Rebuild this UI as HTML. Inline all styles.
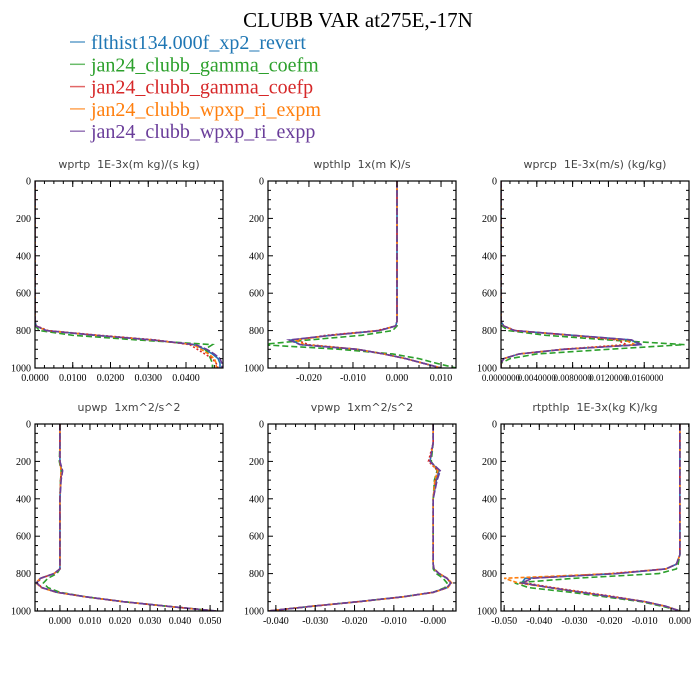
<!DOCTYPE html>
<html><head><meta charset="utf-8"><style>
html,body{margin:0;padding:0;background:#fff;}
svg{display:block;}
</style></head><body>
<svg id="chart" width="700" height="700" viewBox="0 0 700 700" xmlns="http://www.w3.org/2000/svg">
<text x="358" y="27" text-anchor="middle" font-family="Liberation Serif, serif" font-size="21" fill="#000">CLUBB VAR at275E,-17N</text>
<g id="legend"></g>
<g id="panels"></g>
</svg>
<script>
const seriesNames = ["flthist134.000f_xp2_revert","jan24_clubb_gamma_coefm","jan24_clubb_gamma_coefp","jan24_clubb_wpxp_ri_expm","jan24_clubb_wpxp_ri_expp"];
const seriesColors = ["#1f77b4","#2ca02c","#d62728","#ff7f0e","#6a3d9a"];
const seriesDash = ["","6,3","2,2","4,2","7,2"];
const levels = [0,100,200,250,300,400,500,600,700,750,775,800,825,850,875,900,925,950,975,1000];
const yTicks = [0,200,400,600,800,1000];

const wprtpVals = [
 [0,0,0,0,0,0,0,0,0,0,0.0003,0.003,0.016,0.031,0.042,0.045,0.047,0.0485,0.049,0.049],
 [0,0,0,0,0,0,0,0,0,0,0.0001,0.0012,0.010,0.027,0.047,0.045,0.046,0.0465,0.047,0.047],
 [0,0,0,0,0,0,0,0,0,0,0.0004,0.0035,0.017,0.032,0.041,0.043,0.045,0.047,0.048,0.0485],
 [0,0,0,0,0,0,0,0,0,0,0.0003,0.003,0.016,0.031,0.042,0.044,0.046,0.0475,0.048,0.048],
 [0,0,0,0,0,0,0,0,0,0,0.0003,0.003,0.016,0.031,0.0425,0.0455,0.0475,0.049,0.0495,0.0495]];
const wpthlpVals = [
 [0,0,0,0,0,0,0,0,0,0,-0.0003,-0.004,-0.015,-0.024,-0.022,-0.009,-0.003,0.002,0.006,0.010],
 [0,0,0,0,0,0,0,0,0,0,0,-0.001,-0.008,-0.020,-0.031,-0.013,-0.001,0.005,0.009,0.0134],
 [0,0,0,0,0,0,0,0,0,0,-0.0003,-0.0045,-0.016,-0.023,-0.020,-0.009,-0.003,0.002,0.006,0.010],
 [0,0,0,0,0,0,0,0,0,0,-0.0003,-0.004,-0.015,-0.023,-0.021,-0.009,-0.003,0.002,0.006,0.010],
 [0,0,0,0,0,0,0,0,0,0,-0.0003,-0.004,-0.015,-0.0245,-0.022,-0.009,-0.003,0.002,0.006,0.010]];
const wprcpVals = [
 [0,0,0,0,0,0,0,0,0,0,0.0003,0.0015,0.008,0.0145,0.0155,0.007,0.002,0.0003,0,0],
 [0,0,0,0,0,0,0,0,0,0,0.0001,0.0008,0.005,0.012,0.0205,0.012,0.004,0.001,0,0],
 [0,0,0,0,0,0,0,0,0,0,0.0003,0.0016,0.0078,0.013,0.014,0.0068,0.002,0.0003,0,0],
 [0,0,0,0,0,0,0,0,0,0,0.0003,0.0015,0.0079,0.0138,0.015,0.007,0.002,0.0003,0,0],
 [0,0,0,0,0,0,0,0,0,0,0.0003,0.0015,0.008,0.0146,0.0157,0.007,0.002,0.0003,0,0]];
const upwpVals = [
 [0,0,0,0.0006,0.0003,0,0,0,0,0,0,-0.002,-0.0065,-0.0078,-0.006,-0.001,0.009,0.021,0.036,0.052],
 [0,0,-0.0002,0.0004,0.0002,0,0,0,0,0,0,-0.001,-0.004,-0.0055,-0.004,0,0.009,0.021,0.036,0.052],
 [0,0,0,0.0005,0.0002,0,0,0,0,0,0,-0.002,-0.0063,-0.0076,-0.006,-0.001,0.009,0.021,0.036,0.052],
 [0,0,0,0.0004,0.0003,0,0,0,0,0,0,-0.002,-0.0066,-0.008,-0.0062,-0.0012,0.0088,0.0208,0.0358,0.052],
 [0,0,0,0.0009,0.0004,0,0,0,0,0,0,-0.002,-0.0065,-0.0078,-0.006,-0.001,0.009,0.021,0.036,0.052]];
const vpwpVals = [
 [0,0,-0.0008,0.0015,0.0008,0,0,0,0,0,0.0002,0.0015,0.0035,0.0045,0.0035,0,-0.008,-0.019,-0.031,-0.042],
 [0,0,-0.0005,0.001,0.0003,0,0,0,0,0,0,0.0008,0.0025,0.0035,0.003,0,-0.008,-0.019,-0.031,-0.042],
 [0,0,-0.0012,0.0012,0.0006,0,0,0,0,0,0.0002,0.0015,0.0035,0.0045,0.0035,0,-0.008,-0.019,-0.031,-0.042],
 [0,0,-0.0008,0.0012,0.0004,0,0,0,0,0,0.0002,0.0016,0.0036,0.0047,0.0037,0.0002,-0.0078,-0.0188,-0.031,-0.042],
 [0,0,-0.0008,0.0018,0.001,0,0,0,0,0,0.0002,0.0015,0.0035,0.0045,0.0035,0,-0.008,-0.019,-0.031,-0.042]];
const rtpthlpVals = [
 [0,0,0,0,0,0,0,0,0,-0.001,-0.004,-0.018,-0.044,-0.045,-0.037,-0.028,-0.019,-0.010,-0.004,0],
 [0,0,0,0,0,0,0,0,0,-0.0005,-0.001,-0.006,-0.030,-0.047,-0.043,-0.031,-0.021,-0.011,-0.005,0.0005],
 [0,0,0,0,0,0,0,0,0,-0.001,-0.004,-0.020,-0.043,-0.044,-0.036,-0.027,-0.018,-0.010,-0.004,0],
 [0,0,0,0,0,0,0,0,0,-0.001,-0.004,-0.019,-0.050,-0.046,-0.037,-0.028,-0.019,-0.010,-0.004,0],
 [0,0,0,0,0,0,0,0,0,-0.001,-0.004,-0.018,-0.042,-0.045,-0.037,-0.028,-0.019,-0.010,-0.004,0]];

const panelTitles = ["wprtp\u00a0\u00a01E-3x(m kg)/(s kg)","wpthlp\u00a0\u00a01x(m K)/s","wprcp\u00a0\u00a01E-3x(m/s) (kg/kg)","upwp\u00a0\u00a01xm^2/s^2","vpwp\u00a0\u00a01xm^2/s^2","rtpthlp\u00a0\u00a01E-3x(kg K)/kg"];
const xDomains = [[0,0.0498],[-0.0293,0.0134],[0,0.021],[-0.0083,0.0543],[-0.042,0.0058],[-0.0509,0.0026]];
const xTickVals = [[0,0.01,0.02,0.03,0.04],[-0.02,-0.01,0,0.01],[0,0.004,0.008,0.012,0.016],[0,0.01,0.02,0.03,0.04,0.05],[-0.04,-0.03,-0.02,-0.01,0],[-0.05,-0.04,-0.03,-0.02,-0.01,0]];
const xTickLabels = [["0.0000","0.0100","0.0200","0.0300","0.0400"],["-0.020","-0.010","0.000","0.010"],["0.0000000","0.0040000","0.0080000","0.0120000","0.0160000"],["0.000","0.010","0.020","0.030","0.040","0.050"],["-0.040","-0.030","-0.020","-0.010","-0.000"],["-0.050","-0.040","-0.030","-0.020","-0.010","0.000"]];
const xMinorStep = [0.0025,0.0025,0.001,0.0025,0.0025,0.0025];
const panelVals = [wprtpVals,wpthlpVals,wprcpVals,upwpVals,vpwpVals,rtpthlpVals];
const panelNames = ["wprtp","wpthlp","wprcp","upwp","vpwp","rtpthlp"];

const NS="http://www.w3.org/2000/svg";
function mk(tag,attrs,parent){const e=document.createElementNS(NS,tag);for(const k in attrs)e.setAttribute(k,attrs[k]);parent.appendChild(e);return e;}

const leg=document.getElementById('legend');
seriesNames.forEach((n,i)=>{
  const y=42+i*22.3;
  const g=mk('g',{},leg);
  
  
  mk('line',{x1:70,x2:85,y1:y,y2:y,stroke:seriesColors[i],'stroke-width':1.5,opacity:0.7},g);
  const t=mk('text',{x:91,y:y+7,'font-family':'Liberation Serif, serif','font-size':20,fill:seriesColors[i]},g);
  t.textContent=n;
});

const boxes=[[35,181],[268,181],[501,181],[35,424],[268,424],[501,424]];
const W=188,H=187;
const root=document.getElementById('panels');
boxes.forEach((b,p)=>{
  const [x0,y0]=b;
  const g=mk('g',{},root);
  
  
  const [d0,d1]=xDomains[p];
  const xs=v=>x0+(v-d0)/(d1-d0)*W;
  const ys=v=>y0+v/1000*H;
  const t=mk('text',{x:x0+W/2,y:y0-13,'text-anchor':'middle','font-family':'DejaVu Sans, sans-serif','font-size':11,fill:'#444'},g);
  
  
  t.textContent=panelTitles[p];
  const clipId='clip'+p;
  const cp=mk('clipPath',{id:clipId},g);
  mk('rect',{x:x0,y:y0,width:W,height:H},cp);
  const lines=mk('g',{'clip-path':'url(#'+clipId+')'},g);
  panelVals[p].forEach((vals,s)=>{
    const pts=vals.map((v,k)=>xs(v).toFixed(2)+','+ys(levels[k]).toFixed(2)).join(' ');
    const pl=mk('polyline',{points:pts,fill:'none',stroke:seriesColors[s],'stroke-width':1.6,'stroke-dasharray':seriesDash[s]},lines);
    
    
  });
  const ax=mk('g',{},g);
  
  
  mk('rect',{x:x0,y:y0,width:W,height:H,fill:'none',stroke:'#000','stroke-width':1.2},ax);
  for(let v=0;v<=1000;v+=50){
    const y=ys(v);const maj=v%200===0;const L=maj?5:3;
    mk('line',{x1:x0,x2:x0+L,y1:y,y2:y,stroke:'#000','stroke-width':1},ax);
    mk('line',{x1:x0+W,x2:x0+W-L,y1:y,y2:y,stroke:'#000','stroke-width':1},ax);
  }
  yTicks.forEach(v=>{
    const tt=mk('text',{x:x0-4,y:ys(v)+3.5,'text-anchor':'end','font-family':'Liberation Serif, serif','font-size':10,fill:'#000'},ax);
    tt.textContent=String(v);
  });
  const st=xMinorStep[p];
  for(let k=Math.ceil(d0/st);k*st<=d1+1e-12;k++){
    const v=k*st;const x=xs(v);
    mk('line',{x1:x,x2:x,y1:y0,y2:y0+3,stroke:'#000','stroke-width':1},ax);
    mk('line',{x1:x,x2:x,y1:y0+H,y2:y0+H-3,stroke:'#000','stroke-width':1},ax);
  }
  xTickVals[p].forEach((v,k)=>{
    const x=xs(v);
    mk('line',{x1:x,x2:x,y1:y0,y2:y0+6,stroke:'#000','stroke-width':1},ax);
    mk('line',{x1:x,x2:x,y1:y0+H,y2:y0+H-6,stroke:'#000','stroke-width':1},ax);
    const tt=mk('text',{x:x,y:y0+H+13,'text-anchor':'middle','font-family':'Liberation Serif, serif','font-size':p===2?9:10,fill:'#000'},ax);
    tt.textContent=xTickLabels[p][k];
  });
});
</script>
</body></html>
